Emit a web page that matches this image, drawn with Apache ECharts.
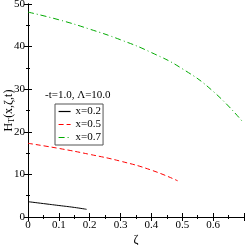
<!DOCTYPE html>
<html><head><meta charset="utf-8">
<script src="https://cdn.jsdelivr.net/npm/echarts@6/dist/echarts.min.js"></script>
<style>html,body{margin:0;padding:0;background:#fff}#c{width:245px;height:245px}</style>
</head><body><div id="c"></div>
<script>
const zetaA = [0, 0.05, 0.1, 0.15, 0.19];
const valA  = [3.6, 3.15, 2.7, 2.25, 1.8];
const zetaB = [0, 0.1, 0.2, 0.3, 0.4, 0.485];
const valB  = [17.3, 16.1, 14.7, 13.1, 11.0, 8.5];
const zetaC = [0, 0.1, 0.2, 0.3, 0.4, 0.5, 0.6, 0.695];
const valC  = [48.1, 46.3, 44.1, 41.6, 38.6, 34.8, 29.5, 22.4];
const names = ['x=0.2', 'x=0.5', 'x=0.7'];
const legendTitle = '-t=1.0, Λ=10.0';

const F = 'Liberation Serif, DejaVu Serif, serif';
const colors = ['#000000', '#ff0000', '#00aa00'];
const dashes = ['solid', [5, 3], [6, 3, 1, 3]];
const pair = (xs, ys) => xs.map((x, i) => [x, ys[i]]);
const tickX = {inside: true, length: 4, lineStyle: {color: '#000'}};
const minorX = {show: true, splitNumber: 2, length: 2, lineStyle: {color: '#000'}};
const minorY = {show: true, splitNumber: 2, length: 2, lineStyle: {color: '#000'}};
const chart = echarts.init(document.getElementById('c'), null, {renderer: 'canvas'});
chart.setOption({
  animation: false,
  grid: {left: 28, right: 1, top: 4, bottom: 28, containLabel: false, outerBoundsMode: 'none'},
  title: {text: legendTitle, left: 45, top: 90, textStyle: {fontFamily: F, fontSize: 11, fontWeight: 'normal', color: '#000'}, padding: 0},
  legend: {
    orient: 'vertical', left: 55, top: 104,
    data: names.map((n, i) => ({name: n, lineStyle: {color: colors[i], width: 1.2, type: dashes[i]}})),
    borderColor: '#555', borderWidth: 1, padding: [2, 2, 2, 3],
    itemWidth: 12, itemHeight: 9, itemGap: 2,
    itemStyle: {opacity: 0},
    textStyle: {fontFamily: F, fontSize: 11, color: '#000'}
  },
  xAxis: [{
    type: 'value', min: 0, max: 0.7, interval: 0.1,
    name: 'ζ', nameLocation: 'middle', nameGap: 17, nameMoveOverlap: false,
    nameTextStyle: {fontFamily: F, fontSize: 12, color: '#000'},
    axisLine: {lineStyle: {color: '#000', width: 1}},
    axisTick: tickX, minorTick: minorX, splitLine: {show: false},
    axisLabel: {fontFamily: F, fontSize: 11, color: '#000', margin: 3, showMaxLabel: false,
      formatter: v => v === 0 ? '0' : v.toFixed(1)}
  }, {
    type: 'value', min: 0, max: 0.7, interval: 0.1, position: 'top',
    axisLine: {lineStyle: {color: '#000'}}, axisTick: tickX, minorTick: minorX,
    axisLabel: {show: false}, splitLine: {show: false}
  }],
  yAxis: [{
    type: 'value', min: 0, max: 50, interval: 10,
    name: '{a|H}{s|T}{a|(x,ζ,t)}', nameLocation: 'middle', nameGap: 12, nameMoveOverlap: false,
    nameTextStyle: {rich: {a: {fontFamily: F, fontSize: 12, color: '#000'}, s: {fontFamily: F, fontSize: 8, color: '#000', verticalAlign: 'bottom', padding: [6, 0, 0, 0]}}},
    axisLine: {show: true, lineStyle: {color: '#000'}},
    axisTick: tickX, minorTick: minorY, splitLine: {show: false},
    axisLabel: {fontFamily: F, fontSize: 11, color: '#000', margin: 3}
  }, {
    type: 'value', min: 0, max: 50, interval: 10, position: 'right',
    axisLine: {show: true, lineStyle: {color: '#000'}}, axisTick: tickX, minorTick: minorY,
    axisLabel: {show: false}, splitLine: {show: false}
  }],
  series: [
    {name: names[0], type: 'line', data: pair(zetaA, valA), showSymbol: false, smooth: true,
     lineStyle: {color: colors[0], width: 1, type: dashes[0]}, itemStyle: {color: colors[0]}},
    {name: names[1], type: 'line', data: pair(zetaB, valB), showSymbol: false, smooth: true,
     lineStyle: {color: colors[1], width: 1, type: dashes[1]}, itemStyle: {color: colors[1]}},
    {name: names[2], type: 'line', data: pair(zetaC, valC), showSymbol: false, smooth: true,
     lineStyle: {color: colors[2], width: 1, type: dashes[2]}, itemStyle: {color: colors[2]}}
  ]
});
</script></body></html>
